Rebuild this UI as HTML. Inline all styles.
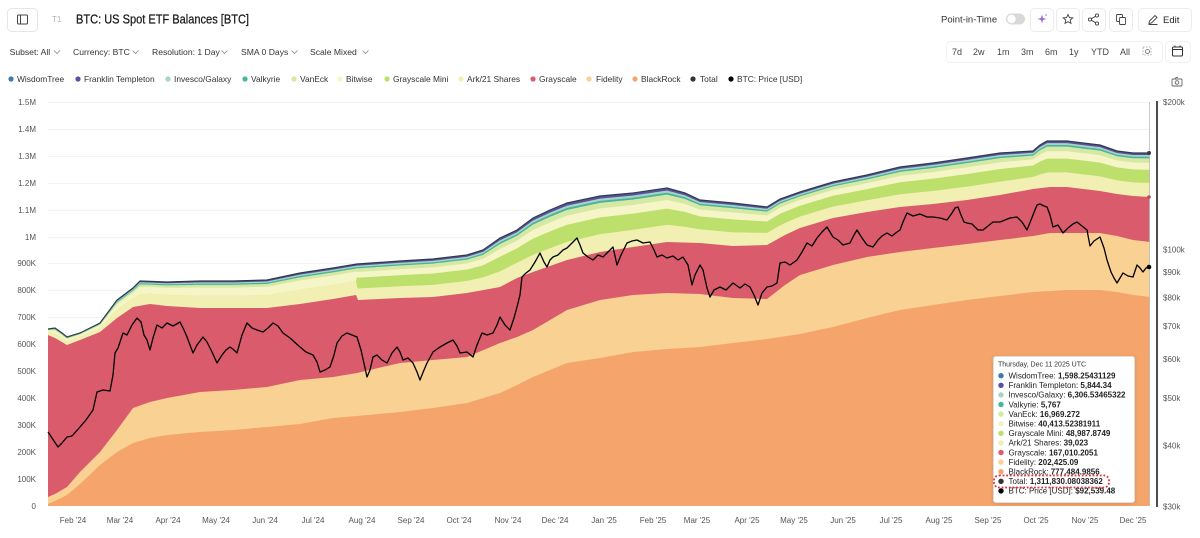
<!DOCTYPE html>
<html><head><meta charset="utf-8">
<style>
html,body{margin:0;padding:0;background:#fff;}
body{width:1200px;height:538px;overflow:hidden;position:relative;font-family:"Liberation Sans",Arial,sans-serif;}
svg{position:absolute;left:0;top:0;}
.tt{position:absolute;left:993px;top:356px;width:142px;height:147px;background:#fff;border:1px solid #e0e0e0;border-radius:3px;box-shadow:0 1px 4px rgba(0,0,0,.13);box-sizing:border-box;}
</style></head><body>
<svg width="1200" height="538" viewBox="0 0 1200 538" font-family="Liberation Sans, Arial, sans-serif">
<defs><clipPath id="pc"><rect x="48" y="95" width="1102" height="411"/></clipPath></defs>

<!-- header -->
<rect x="7.5" y="8.5" width="30" height="23" rx="4" fill="#fff" stroke="#e6e6e6"/>
<rect x="17.5" y="15" width="10" height="9" rx="1" fill="none" stroke="#444" stroke-width="1"/>
<line x1="20.5" y1="15" x2="20.5" y2="24" stroke="#444" stroke-width="1"/>
<text x="52" y="22" font-size="8" fill="#b0b0b0">T1</text>
<text x="76" y="23.5" font-size="12.5" fill="#1a1a1a" textLength="173" lengthAdjust="spacingAndGlyphs" stroke="#1a1a1a" stroke-width="0.25">BTC: US Spot ETF Balances [BTC]</text>

<text x="941" y="22.5" font-size="9.5" fill="#333">Point-in-Time</text>
<rect x="1006" y="13.5" width="19" height="11" rx="5.5" fill="#d8d8d8"/>
<circle cx="1011.5" cy="19" r="4.2" fill="#fff"/>
<rect x="1030.5" y="8.5" width="23" height="23" rx="4" fill="#fff" stroke="#ececec"/>
<path d="M1042,14.5 L1043,18 L1046.5,19 L1043,20 L1042,23.5 L1041,20 L1037.5,19 L1041,18 Z" fill="#9a6ad8"/>
<circle cx="1046" cy="15" r="0.8" fill="#9a6ad8"/>
<rect x="1056.5" y="8.5" width="23" height="23" rx="4" fill="#fff" stroke="#ececec"/>
<path d="M1068,14.5 L1069.4,17.6 L1072.8,17.9 L1070.2,20.1 L1071,23.4 L1068,21.7 L1065,23.4 L1065.8,20.1 L1063.2,17.9 L1066.6,17.6 Z" fill="none" stroke="#444" stroke-width="0.9"/>
<rect x="1082.5" y="8.5" width="23" height="23" rx="4" fill="#fff" stroke="#ececec"/>
<g fill="none" stroke="#444" stroke-width="0.9"><circle cx="1090" cy="19.5" r="1.6"/><circle cx="1097" cy="15.5" r="1.6"/><circle cx="1097" cy="23.5" r="1.6"/><line x1="1091.4" y1="18.7" x2="1095.6" y2="16.3"/><line x1="1091.4" y1="20.3" x2="1095.6" y2="22.7"/></g>
<rect x="1109.5" y="8.5" width="23" height="23" rx="4" fill="#fff" stroke="#ececec"/>
<g fill="none" stroke="#444" stroke-width="0.9"><rect x="1116.5" y="14.5" width="6" height="7" rx="1"/><rect x="1119.5" y="17.5" width="6" height="7" rx="1" fill="#fff"/></g>
<rect x="1138.5" y="8.5" width="53" height="23" rx="4" fill="#fff" stroke="#ececec"/>
<path d="M1149,23.5 L1149.5,21 L1155,15.5 L1157,17.5 L1151.5,23 Z M1148.5,24.5 L1157.5,24.5" fill="none" stroke="#444" stroke-width="0.9"/>
<text x="1163" y="23" font-size="9.5" fill="#222">Edit</text>

<!-- row 2 -->
<g font-size="8.6" fill="#333">
<text x="9.6" y="55">Subset: All</text>
<text x="73" y="55">Currency: BTC</text>
<text x="152" y="55">Resolution: 1 Day</text>
<text x="241" y="55">SMA 0 Days</text>
<text x="310" y="55">Scale Mixed</text>
</g>
<g fill="none" stroke="#888" stroke-width="0.8">
<polyline points="54,50.5 57,53.5 60,50.5"/>
<polyline points="132.5,50.5 135.5,53.5 138.5,50.5"/>
<polyline points="221.5,50.5 224.5,53.5 227.5,50.5"/>
<polyline points="291.5,50.5 294.5,53.5 297.5,50.5"/>
<polyline points="362.5,50.5 365.5,53.5 368.5,50.5"/>
</g>
<rect x="946.5" y="41.5" width="216" height="21" rx="4" fill="#fff" stroke="#f1f1f1"/>
<rect x="1165.5" y="41.5" width="25" height="21" rx="4" fill="#fff" stroke="#f1f1f1"/>
<g font-size="9" fill="#444">
<text x="952" y="55">7d</text>
<text x="973" y="55">2w</text>
<text x="997" y="55">1m</text>
<text x="1021" y="55">3m</text>
<text x="1045" y="55">6m</text>
<text x="1069" y="55">1y</text>
<text x="1091" y="55">YTD</text>
<text x="1120" y="55">All</text>
</g>
<rect x="1143" y="47" width="8" height="8" fill="none" stroke="#999" stroke-width="0.8" stroke-dasharray="1.5 1.5"/>
<circle cx="1147.5" cy="51.5" r="2" fill="none" stroke="#666" stroke-width="0.8"/>
<g fill="none" stroke="#333" stroke-width="1"><rect x="1172.5" y="47" width="10" height="9" rx="1"/><line x1="1172.5" y1="49.5" x2="1182.5" y2="49.5"/><line x1="1175" y1="45.5" x2="1175" y2="47.5"/><line x1="1180" y1="45.5" x2="1180" y2="47.5"/></g>
<g fill="none" stroke="#666" stroke-width="0.9"><rect x="1172" y="79" width="10" height="7" rx="1"/><circle cx="1177" cy="82.5" r="1.8"/><line x1="1175" y1="79" x2="1176" y2="77.5"/><line x1="1176" y1="77.5" x2="1178" y2="77.5"/></g>

<!-- legend -->
<g font-size="8.4" fill="#333">
<circle cx="11" cy="79" r="2.6" fill="#3b7ca8"/><text x="17" y="82">WisdomTree</text>
<circle cx="78" cy="79" r="2.6" fill="#5a4fa0"/><text x="84" y="82">Franklin Templeton</text>
<circle cx="168" cy="79" r="2.6" fill="#a7d3c5"/><text x="174" y="82">Invesco/Galaxy</text>
<circle cx="245" cy="79" r="2.6" fill="#47b59c"/><text x="251" y="82">Valkyrie</text>
<circle cx="294" cy="79" r="2.6" fill="#d5e9a5"/><text x="300" y="82">VanEck</text>
<circle cx="340" cy="79" r="2.6" fill="#f6f5c8"/><text x="346" y="82">Bitwise</text>
<circle cx="387" cy="79" r="2.6" fill="#bce06b"/><text x="393" y="82">Grayscale Mini</text>
<circle cx="461" cy="79" r="2.6" fill="#f2efb2"/><text x="467" y="82">Ark/21 Shares</text>
<circle cx="533" cy="79" r="2.6" fill="#d95b6c"/><text x="539" y="82">Grayscale</text>
<circle cx="589" cy="79" r="2.6" fill="#f8d193"/><text x="596" y="82">Fidelity</text>
<circle cx="635" cy="79" r="2.6" fill="#f5a56b"/><text x="641" y="82">BlackRock</text>
<circle cx="693" cy="79" r="2.6" fill="#333"/><text x="700" y="82">Total</text>
<circle cx="731" cy="79" r="2.6" fill="#000"/><text x="737" y="82">BTC: Price [USD]</text>
</g>

<!-- gridlines -->
<g stroke="#f3f3f3" stroke-width="1">
<line x1="48" x2="1150" y1="102.5" y2="102.5"/><line x1="48" x2="1150" y1="129.5" y2="129.5"/><line x1="48" x2="1150" y1="156.5" y2="156.5"/><line x1="48" x2="1150" y1="183.5" y2="183.5"/><line x1="48" x2="1150" y1="210.5" y2="210.5"/><line x1="48" x2="1150" y1="237.5" y2="237.5"/><line x1="48" x2="1150" y1="263.5" y2="263.5"/><line x1="48" x2="1150" y1="290.5" y2="290.5"/><line x1="48" x2="1150" y1="317.5" y2="317.5"/>
</g>

<!-- areas -->
<g clip-path="url(#pc)">
<polygon id="pT" fill="#e8efb0" points="48,329 55,328 62,333 67,337 80,333 100,323 117,300 133,288 140,281 167,282 200,281 233,281 267,280 300,273 333,268 357,264 400,261 433,259 467,255 483,250 500,238 517,230 533,218 550,210 567,203 600,196 633,193 667,188 685,193 700,200 733,203 767,207 780,199 800,192 833,182 867,175 900,167 933,163 967,158 1000,153 1033,151 1040,145 1047,141 1067,141 1083,143 1100,145 1117,151 1133,153 1150,153 1150,510 48,510"/>
<g id="bands"></g>
<polygon id="pG" fill="#d95b6c" points="48,335 55,338 67,345 80,340 100,332 117,318 133,307 150,304 167,306 200,308 233,308 267,308 300,304 333,299 356,295 358,300 400,298 433,297 467,293 500,287 517,278 533,272 567,260 600,252 633,247 667,242 700,243 733,246 767,245 785,235 800,228 833,218 867,212 900,207 933,204 967,200 1000,195 1033,189 1050,187 1067,187 1100,191 1117,194 1133,196 1150,197 1150,510 48,510"/>
<polygon fill="#f8d193" points="48,497 55,494 67,487 80,472 100,452 117,430 133,408 150,402 167,398 200,392 233,390 267,387 300,380 333,377 357,373 400,363 433,360 467,357 500,343 517,337 533,330 567,310 600,300 633,295 667,293 700,294 733,298 767,299 785,285 800,275 833,265 867,257 900,252 933,248 967,244 1000,240 1033,236 1050,233 1067,233 1100,233 1117,236 1133,240 1150,242 1150,510 48,510"/>
<polygon fill="#f5a56b" points="48,504 55,501 67,495 80,484 100,465 117,452 133,443 150,438 167,435 200,432 233,430 267,427 300,424 333,418 357,416 400,412 433,408 467,403 500,393 517,385 533,377 567,363 600,358 633,352 667,349 700,347 733,343 767,339 800,334 833,327 867,318 900,310 933,305 967,300 1000,296 1033,292 1050,291 1067,290 1100,290 1117,292 1133,295 1150,297 1150,510 48,510"/>
<polyline id="lT" fill="none" stroke="#2f3b4c" stroke-width="1.2" points="48,329 55,328 62,333 67,337 80,333 100,323 117,300 133,288 140,281 167,282 200,281 233,281 267,280 300,273 333,268 357,264 400,261 433,259 467,255 483,250 500,238 517,230 533,218 550,210 567,203 600,196 633,193 667,188 685,193 700,200 733,203 767,207 780,199 800,192 833,182 867,175 900,167 933,163 967,158 1000,153 1033,151 1040,145 1047,141 1067,141 1083,143 1100,145 1117,151 1133,153 1150,153"/>
</g>
<line x1="1149.5" y1="102" x2="1149.5" y2="506" stroke="#bdbdbd" stroke-width="1" opacity="0.8"/>

<!-- BTC price -->
<polyline fill="none" stroke="#000" stroke-width="1.3" stroke-linejoin="round" points="48,432 52,438 58,447 62,443 67,437 72,436 80,427 86,420 93,410 97,392 103,390 110,391 113,375 115,353 118,348 123,333 127,335 132,325 137,318 141,322 144,335 147,340 150,350 153,338 157,325 162,328 167,323 173,326 180,322 184,330 187,337 190,345 193,353 197,345 203,337 207,342 212,352 217,363 222,355 226,350 230,347 234,350 237,353 242,335 247,323 252,328 257,330 263,332 268,328 273,323 278,326 283,333 290,338 300,347 306,352 313,355 317,362 320,372 325,370 330,367 334,355 337,343 342,336 347,333 352,335 357,337 361,350 365,368 367,377 370,370 373,357 377,355 382,360 387,363 392,353 397,347 400,352 403,360 408,358 413,363 417,372 420,380 424,370 427,363 433,352 440,347 447,343 453,340 457,346 460,353 467,352 473,357 477,345 482,333 487,335 493,333 497,325 500,317 505,325 510,330 514,318 517,307 520,295 522,277 526,273 530,270 535,262 540,253 544,262 547,267 550,260 553,257 558,255 563,250 567,248 572,243 577,238 580,245 583,253 588,257 593,260 598,255 603,257 608,252 613,247 617,265 621,255 627,243 632,241 637,240 643,243 650,242 654,250 657,257 662,255 667,258 673,256 678,260 683,257 688,265 692,285 695,275 700,265 703,270 707,288 710,297 714,290 720,287 726,290 733,283 740,288 745,284 750,287 754,295 758,305 762,293 767,287 772,286 777,283 780,263 785,262 790,265 797,260 802,252 807,243 812,246 817,238 822,232 827,227 830,232 833,237 838,240 843,245 850,243 854,235 857,230 862,238 867,245 873,247 878,240 882,236 887,233 892,236 897,232 900,230 903,222 907,213 913,216 920,214 927,217 933,217 940,218 947,220 952,213 955,208 958,207 961,215 964,222 967,223 972,224 978,230 983,230 988,226 993,222 1000,222 1005,220 1010,218 1017,217 1022,222 1027,230 1031,220 1035,210 1037,205 1040,204 1044,206 1047,207 1050,215 1053,227 1058,225 1063,233 1068,228 1073,224 1077,222 1082,226 1087,230 1090,246 1094,241 1100,237 1104,248 1107,260 1111,272 1114,278 1117,283 1120,278 1123,273 1128,276 1133,277 1137,265 1140,268 1143,272 1146,268 1149,267"/>
<circle cx="1149" cy="153" r="2" fill="#3a3a4a"/>
<circle cx="1149" cy="197" r="1.8" fill="#c4455a"/>
<circle cx="1149" cy="267" r="2.3" fill="#000"/>

<!-- right axis -->
<line x1="1157" y1="101" x2="1157" y2="507" stroke="#111" stroke-width="1.5"/>
<g font-size="8" fill="#555">
<text x="1163" y="105">$200k</text>
<text x="1163" y="252.7">$100k</text>
<text x="1163" y="275.2">$90k</text>
<text x="1163" y="300.4">$80k</text>
<text x="1163" y="328.9">$70k</text>
<text x="1163" y="361.8">$60k</text>
<text x="1163" y="400.8">$50k</text>
<text x="1163" y="448.4">$40k</text>
<text x="1163" y="509.5">$30k</text>
</g>
<!-- left axis -->
<g font-size="8" fill="#555" text-anchor="end">
<text x="36" y="105">1.5M</text>
<text x="36" y="132">1.4M</text>
<text x="36" y="159">1.3M</text>
<text x="36" y="186">1.2M</text>
<text x="36" y="213">1.1M</text>
<text x="36" y="240">1M</text>
<text x="36" y="266">900K</text>
<text x="36" y="293">800K</text>
<text x="36" y="320">700K</text>
<text x="36" y="347">600K</text>
<text x="36" y="374">500K</text>
<text x="36" y="401">400K</text>
<text x="36" y="428">300K</text>
<text x="36" y="455">200K</text>
<text x="36" y="482">100K</text>
<text x="36" y="509">0</text>
</g>
<!-- x axis -->
<g font-size="8" fill="#555" text-anchor="middle">
<text x="73" y="523">Feb '24</text>
<text x="120" y="523">Mar '24</text>
<text x="168" y="523">Apr '24</text>
<text x="216" y="523">May '24</text>
<text x="265" y="523">Jun '24</text>
<text x="313" y="523">Jul '24</text>
<text x="362" y="523">Aug '24</text>
<text x="411" y="523">Sep '24</text>
<text x="459" y="523">Oct '24</text>
<text x="508" y="523">Nov '24</text>
<text x="555" y="523">Dec '24</text>
<text x="604" y="523">Jan '25</text>
<text x="653" y="523">Feb '25</text>
<text x="697" y="523">Mar '25</text>
<text x="747" y="523">Apr '25</text>
<text x="794" y="523">May '25</text>
<text x="843" y="523">Jun '25</text>
<text x="891" y="523">Jul '25</text>
<text x="939" y="523">Aug '25</text>
<text x="988" y="523">Sep '25</text>
<text x="1036" y="523">Oct '25</text>
<text x="1085" y="523">Nov '25</text>
<text x="1133" y="523">Dec '25</text>
</g>
</svg>

<div class="tt"></div>
<svg width="1200" height="538" viewBox="0 0 1200 538" font-family="Liberation Sans, Arial, sans-serif">
<text x="998" y="366.5" font-size="7" fill="#333">Thursday, Dec 11 2025 UTC</text>
<g font-size="8" fill="#222">
<circle cx="1001" cy="375.7" r="2.7" fill="#3b7ca8"/><text x="1008.5" y="378.5">WisdomTree: <tspan font-weight="bold">1,598.25431129</tspan></text>
<circle cx="1001" cy="385.3" r="2.7" fill="#5a4fa0"/><text x="1008.5" y="388.1">Franklin Templeton: <tspan font-weight="bold">5,844.34</tspan></text>
<circle cx="1001" cy="394.9" r="2.7" fill="#a7d3c5"/><text x="1008.5" y="397.7">Invesco/Galaxy: <tspan font-weight="bold">6,306.53465322</tspan></text>
<circle cx="1001" cy="404.5" r="2.7" fill="#47b59c"/><text x="1008.5" y="407.3">Valkyrie: <tspan font-weight="bold">5,767</tspan></text>
<circle cx="1001" cy="414.1" r="2.7" fill="#d5e9a5"/><text x="1008.5" y="416.9">VanEck: <tspan font-weight="bold">16,969.272</tspan></text>
<circle cx="1001" cy="423.7" r="2.7" fill="#f3f2c0"/><text x="1008.5" y="426.5">Bitwise: <tspan font-weight="bold">40,413.52381911</tspan></text>
<circle cx="1001" cy="433.3" r="2.7" fill="#bce06b"/><text x="1008.5" y="436.1">Grayscale Mini: <tspan font-weight="bold">48,987.8749</tspan></text>
<circle cx="1001" cy="442.9" r="2.7" fill="#f2efb2"/><text x="1008.5" y="445.7">Ark/21 Shares: <tspan font-weight="bold">39,023</tspan></text>
<circle cx="1001" cy="452.5" r="2.7" fill="#d95b6c"/><text x="1008.5" y="455.3">Grayscale: <tspan font-weight="bold">167,010.2051</tspan></text>
<circle cx="1001" cy="462.1" r="2.7" fill="#f8d193"/><text x="1008.5" y="464.9">Fidelity: <tspan font-weight="bold">202,425.09</tspan></text>
<circle cx="1001" cy="471.7" r="2.7" fill="#f5a56b"/><text x="1008.5" y="474.5">BlackRock: <tspan font-weight="bold">777,484.9856</tspan></text>
<circle cx="1001" cy="481.3" r="2.7" fill="#333"/><text x="1008.5" y="484.1">Total: <tspan font-weight="bold">1,311,830.08038362</tspan></text>
<circle cx="1001" cy="490.9" r="2.7" fill="#000"/><text x="1008.5" y="493.7">BTC: Price [USD]: <tspan font-weight="bold">$92,539.48</tspan></text>
</g>
<rect x="994" y="475.5" width="115" height="12" rx="5" fill="none" stroke="#e0303a" stroke-width="1.8" stroke-dasharray="1.8 1.8"/>
</svg>

<script>
(function(){
  function P(s){return s.trim().split(/\s+/).map(function(p){return p.split(',').map(Number);});}
  function I(pts,x){for(var i=0;i<pts.length-1;i++){if(x<=pts[i+1][0]){var a=pts[i],b=pts[i+1];var t=(b[0]===a[0])?1:(x-a[0])/(b[0]-a[0]);return a[1]+(b[1]-a[1])*t;}}return pts[pts.length-1][1];}
  var T=P(document.getElementById('lT').getAttribute('points'));
  var G=P(document.getElementById('pG').getAttribute('points')); G=G.slice(0,G.length-2);
  var pre=[.012,.04,.045,.045,.10,.30,0,.458];
  var post=[.012,.035,.04,.035,.10,.16,.30,.318];
  var cols=['#3b7ca8','#5a4fa0','#a7d3c5','#47b59c','#d5e9a5','#f6f5c8','#bce06b','#f2efb2'];
  var tops=[[],[],[],[],[],[],[],[]];
  for(var x=48;x<=1150;x++){
    var t=I(T,x),g=I(G,x),gap=Math.max(0,g-t);
    var fr=x>=357?post:pre,acc=0;
    for(var k=0;k<8;k++){tops[k].push([x,t+gap*acc]);acc+=fr[k];}
  }
  var html='';
  for(var k=0;k<8;k++){
    var d='M'+tops[k].map(function(p){return p[0]+','+p[1].toFixed(2);}).join(' L')+' L1150,510 L48,510 Z';
    html+='<path d="'+d+'" fill="'+cols[k]+'"/>';
  }
  document.getElementById('bands').innerHTML=html;
})();
</script>
</body></html>
